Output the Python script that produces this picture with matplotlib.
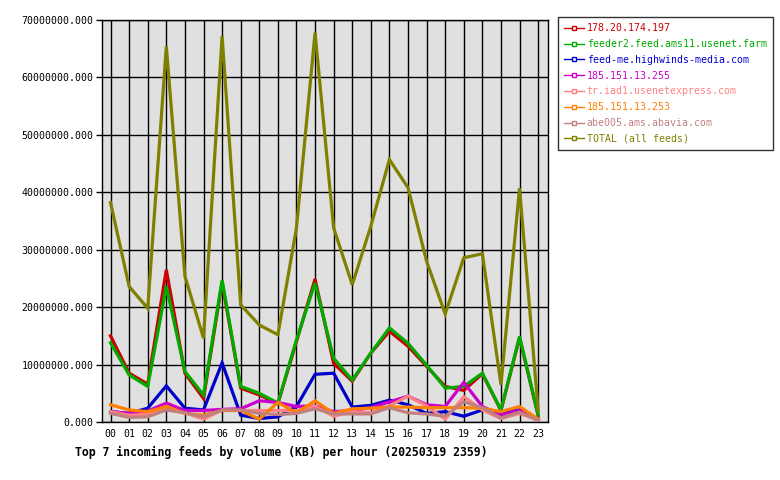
import matplotlib
matplotlib.use("Agg")
import matplotlib.pyplot as plt
from matplotlib.lines import Line2D

hours = ["00", "01", "02", "03", "04", "05", "06", "07", "08", "09", "10", "11",
         "12", "13", "14", "15", "16", "17", "18", "19", "20", "21", "22", "23"]

feeds = ["178.20.174.197", "feeder2.feed.ams11.usenet.farm", "feed-me.highwinds-media.com",
         "185.151.13.255", "tr.iad1.usenetexpress.com", "185.151.13.253",
         "abe005.ams.abavia.com", "TOTAL (all feeds)"]

# values in millions of KB per hour
red_vals = [15.0, 8.5, 6.6, 26.5, 8.5, 4.1, 24.3, 5.9, 4.7, 3.2, 14.0, 24.9,
            10.2, 7.1, 12.0, 15.8, 13.2, 9.7, 6.2, 5.5, 8.4, 2.0, 14.7, 1.1]
green_vals = [13.8, 8.2, 6.2, 23.6, 8.8, 4.7, 24.7, 6.2, 5.0, 3.3, 14.3, 24.2,
              11.1, 7.3, 12.0, 16.4, 13.7, 9.9, 5.9, 6.2, 8.5, 2.1, 14.9, 1.2]
blue_vals = [1.8, 1.5, 2.4, 6.3, 2.4, 2.1, 10.3, 1.2, 0.6, 0.9, 2.7, 8.3,
             8.5, 2.6, 2.9, 3.8, 3.0, 1.5, 1.8, 1.0, 2.1, 1.5, 2.1, 0.3]
magenta_vals = [1.8, 1.5, 1.9, 3.3, 2.0, 2.0, 2.2, 2.3, 3.7, 3.4, 2.7, 2.8,
                1.8, 2.0, 2.5, 3.5, 4.5, 3.0, 2.7, 6.9, 2.7, 1.2, 2.0, 0.5]
pink_vals = [1.8, 1.2, 1.3, 2.2, 1.6, 0.5, 2.1, 2.0, 2.0, 2.0, 2.0, 2.8,
             1.0, 1.8, 1.6, 2.8, 4.5, 2.8, 0.5, 4.4, 2.1, 0.6, 1.5, 0.3]
orange_vals = [3.0, 2.1, 1.8, 2.7, 1.5, 1.2, 2.0, 2.0, 0.5, 3.4, 1.6, 3.7,
               1.5, 2.3, 2.4, 2.6, 2.6, 2.5, 2.5, 2.5, 2.4, 1.8, 2.7, 0.5]
rosy_vals = [1.5, 0.8, 0.9, 2.1, 1.6, 0.9, 2.1, 2.1, 1.5, 1.3, 1.5, 2.3,
             1.4, 1.4, 1.4, 2.5, 1.6, 1.4, 1.0, 3.5, 2.5, 0.7, 1.7, 0.3]
total_vals = [38.2, 23.6, 19.8, 65.4, 25.4, 14.6, 67.2, 20.4, 16.9, 15.2, 33.8, 67.8,
              33.8, 23.9, 34.1, 45.7, 40.8, 28.0, 18.8, 28.6, 29.3, 6.5, 40.7, 2.1]

series = [red_vals, green_vals, blue_vals, magenta_vals, pink_vals, orange_vals, rosy_vals, total_vals]
colors = ["#cc0000", "#00aa00", "#0000cc", "#cc00cc", "#ff8080", "#ff8000", "#c08080", "#808000"]

yticks = [0, 10, 20, 30, 40, 50, 60, 70]
ytick_labels = ["%d.000" % (v * 1000000) for v in yticks]

mono = "DejaVu Sans Mono"
fig = plt.figure(figsize=(7.8, 4.8), dpi=100)
fig.patch.set_facecolor("white")
ax = fig.add_axes([102 / 780, 1 - 422 / 480, (548 - 102) / 780, (422 - 20) / 480])
ax.set_facecolor("#e0e0e0")

x = list(range(len(hours)))
for vals, col in zip(series, colors):
    ax.plot(x, [v * 1e6 for v in vals], color=col, lw=2.3, solid_joinstyle="miter", zorder=3)

ax.set_xlim(-0.46, 23.53)
ax.set_ylim(0, 70e6)
ax.set_xticks(x)
ax.set_xticklabels(hours, fontfamily=mono, fontsize=7.1)
ax.set_yticks([v * 1e6 for v in yticks])
ax.set_yticklabels(ytick_labels, fontfamily=mono, fontsize=7.1)
ax.tick_params(axis="x", length=0, pad=5)
ax.tick_params(axis="y", length=4, width=1, pad=2)
ax.grid(True, color="black", lw=1)
ax.set_axisbelow(True)
for s in ax.spines.values():
    s.set_color("black")
    s.set_linewidth(1)

handles = [Line2D([0], [0], color=c, lw=1, marker="s", markersize=2.5,
                  markerfacecolor="white", markeredgecolor=c) for c in colors]
leg = fig.legend(handles, feeds, loc="upper left",
                 bbox_to_anchor=(558 / 780, 1 - 17 / 480),
                 borderaxespad=0, prop={"family": mono, "size": 7.15},
                 labelcolor=colors, fancybox=False, frameon=True,
                 handlelength=2.0, handletextpad=0.25, labelspacing=0.58,
                 borderpad=0.65)
leg.get_frame().set_edgecolor("black")
leg.get_frame().set_linewidth(1)

fig.text(75 / 780, 1 - 452 / 480, "Top 7 incoming feeds by volume (KB) per hour (20250319 2359)",
         fontfamily=mono, fontsize=8.3, fontweight="bold", va="center", ha="left")

fig.savefig("out.png", dpi=100)
